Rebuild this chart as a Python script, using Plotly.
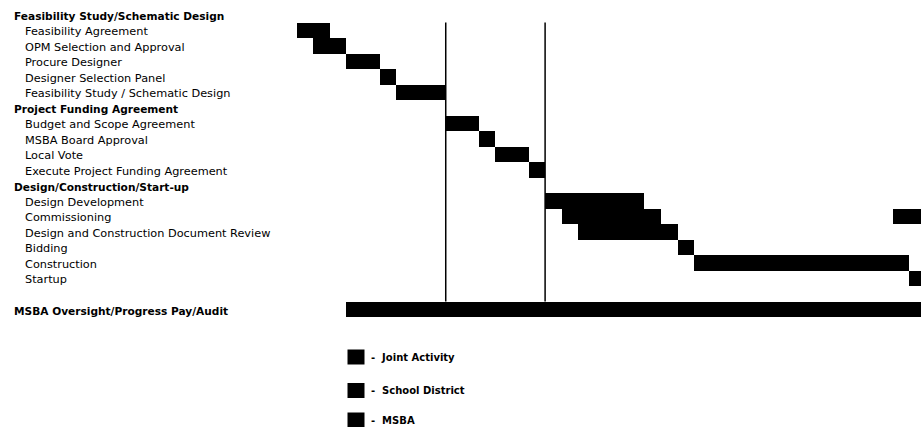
import plotly.graph_objects as go

# ---------------- data ----------------
row_labels = [
    "Feasibility Study/Schematic Design",
    "Feasibility Agreement",
    "OPM Selection and Approval",
    "Procure Designer",
    "Designer Selection Panel",
    "Feasibility Study / Schematic Design",
    "Project Funding Agreement",
    "Budget and Scope Agreement",
    "MSBA Board Approval",
    "Local Vote",
    "Execute Project Funding Agreement",
    "Design/Construction/Start-up",
    "Design Development",
    "Commissioning",
    "Design and Construction Document Review",
    "Bidding",
    "Construction",
    "Startup",
    "",
    "MSBA Oversight/Progress Pay/Audit",
]
row_level = [0, 1, 1, 1, 1, 1, 0, 1, 1, 1, 1, 0, 1, 1, 1, 1, 1, 1, 1, 0]

# tasks: row index, start, end (time units), responsible party
task_rows = [1, 2, 3, 4, 5, 7, 8, 9, 10, 12, 13, 13, 14, 15, 16, 17, 19]
task_start = [0, 1, 3, 5, 6, 9, 11, 12, 14, 15, 16, 36, 17, 23, 24, 37, 3]
task_end = [2, 3, 5, 6, 9, 11, 12, 14, 15, 21, 22, 39, 23, 24, 37, 39, 40]
task_party = ["Joint Activity", "School District", "School District", "MSBA",
              "School District", "Joint Activity", "MSBA", "School District",
              "Joint Activity", "School District", "School District",
              "School District", "MSBA", "School District", "School District",
              "School District", "MSBA"]

parties = ["Joint Activity", "School District", "MSBA"]
milestones = [9, 15]

# ---------------- layout constants ----------------
W, H = 921, 427
x_origin_px = 296.7
unit_px = 16.56
row0_px = 14.8
row_px = 15.5

x_range = [-x_origin_px / unit_px, (W - x_origin_px) / unit_px]
y_range = [(H - row0_px) / row_px, -row0_px / row_px]

fig = go.Figure()

for p in parties:
    idx = [i for i, q in enumerate(task_party) if q == p]
    fig.add_trace(go.Bar(
        orientation="h",
        y=[task_rows[i] for i in idx],
        base=[task_start[i] for i in idx],
        x=[task_end[i] - task_start[i] for i in idx],
        width=1.0,
        marker=dict(color="black", line=dict(width=0)),
        name=p,
        showlegend=False,
        hoverinfo="skip",
    ))

for m in milestones:
    fig.add_shape(type="line", xref="x", yref="y", x0=m, x1=m, y0=0.5, y1=18.5,
                  line=dict(color="black", width=1.5))

for i, (lab, lvl) in enumerate(zip(row_labels, row_level)):
    if not lab:
        continue
    fig.add_annotation(
        xref="paper", yref="y", x=(12 if lvl == 0 else 23) / W, y=i,
        xanchor="left", yanchor="middle", yshift=-1.5, showarrow=False,
        text=lab,
        font=dict(family="DejaVu Sans", size=10.6 if lvl == 0 else 11.3,
                  color="black", weight="bold" if lvl == 0 else "normal"),
    )

# custom legend (swatch + text), positions in page pixels
leg_x0 = 347.5
leg_centers = [357, 390.5, 420]
for p, cy in zip(parties, leg_centers):
    fig.add_shape(type="rect", xref="paper", yref="paper",
                  x0=leg_x0 / W, x1=(leg_x0 + 17) / W,
                  y0=1 - (cy + 7.5) / H, y1=1 - (cy - 7.5) / H,
                  fillcolor="black", line=dict(width=0))
    fig.add_annotation(xref="paper", yref="paper", x=(leg_x0 + 21) / W,
                       y=1 - cy / H, xanchor="left", yanchor="middle",
                       showarrow=False, text="-&nbsp;&nbsp;" + p,
                       font=dict(family="DejaVu Sans", size=10, color="black",
                                 weight="bold"))

fig.update_layout(
    width=W, height=H,
    margin=dict(l=0, r=0, t=0, b=0),
    paper_bgcolor="white", plot_bgcolor="white",
    barmode="overlay", bargap=0,
    showlegend=False,
    xaxis=dict(range=x_range, visible=False, fixedrange=True),
    yaxis=dict(range=y_range, visible=False, fixedrange=True),
)

fig.write_html(
    "out.html",
    config={"displayModeBar": False},
    post_script="document.body.style.margin='0';document.body.style.overflow='hidden';",
)
